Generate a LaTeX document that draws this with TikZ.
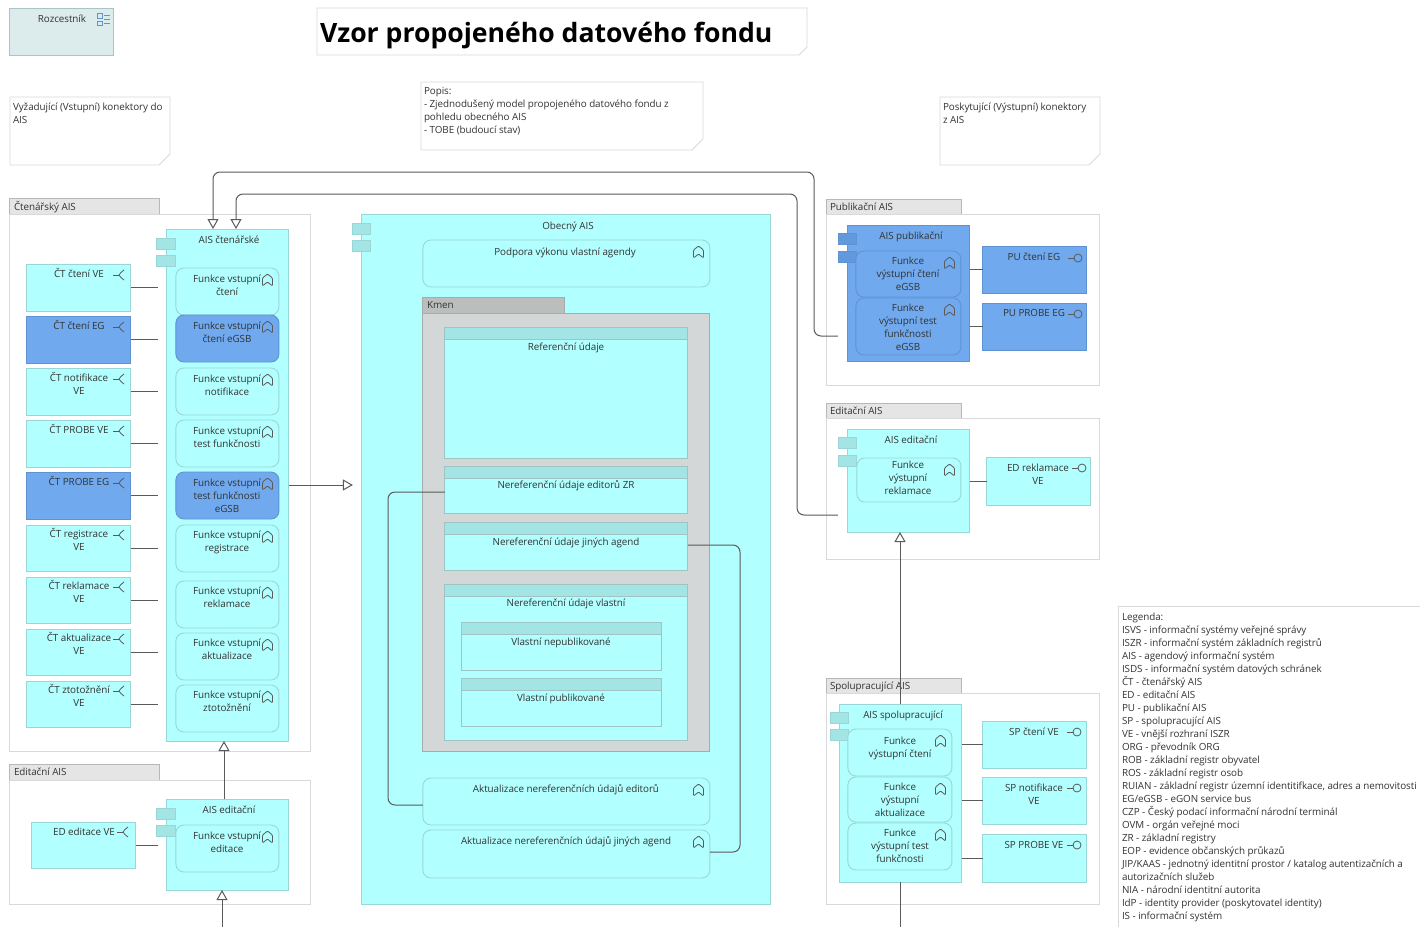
\documentclass[tikz,border=0pt]{standalone}
\usepackage{fontspec}
\setmainfont{Open Sans}
\usetikzlibrary{arrows.meta,calc}
\definecolor{cy}{HTML}{B2FFFF}
\definecolor{cyb}{HTML}{9AD6D6}
\definecolor{cyt}{HTML}{A3E4E4}
\definecolor{bl}{HTML}{70A9EE}
\definecolor{blb}{HTML}{5F93D2}
\definecolor{blt}{HTML}{6199DC}
\definecolor{grp}{HTML}{D9D9D9}
\definecolor{ink}{HTML}{333333}
\definecolor{wire}{HTML}{5A5A5A}
\definecolor{kmf}{HTML}{D3D7D7}
\definecolor{kml}{HTML}{BCBEBE}
\definecolor{kmb}{HTML}{A8ABAB}
\definecolor{dirb}{HTML}{A0C4C4}
\definecolor{rzf}{HTML}{DCEBEB}
\definecolor{rzb}{HTML}{A8C4C4}
\newcommand\fs{\fontsize{9.85}{13}\selectfont\addfontfeature{LetterSpace=-0.6}}
\tikzset{
  x=1pt,y=-1pt,
  bxbase/.style={rectangle,inner sep=0pt,outer sep=0pt,line width=.9pt},
  cyanbox/.style={bxbase,draw=cyb,fill=cy},
  bluebox/.style={bxbase,draw=blb,fill=bl},
  cyantab/.style={bxbase,draw=cyb,fill=cyt},
  bluetab/.style={bxbase,draw=blb,fill=blt},
  cyanfn/.style={bxbase,draw=cyb,fill=cy,rounded corners=8pt},
  bluefn/.style={bxbase,draw=blb,fill=bl,rounded corners=8pt},
  grpbox/.style={bxbase,draw=grp,fill=white},
  grplab/.style={bxbase,draw=grp!85!black,fill=black!10},
  kmenbox/.style={bxbase,draw=kmb,fill=kmf},
  kmenlab/.style={bxbase,draw=kmb,fill=kml},
  dirbox/.style={bxbase,draw=dirb,fill=cy},
  hdr/.style={bxbase,draw=dirb,fill=cyt},
  rozc/.style={bxbase,draw=rzb,fill=rzf},
  hidden/.style={bxbase},
  txt/.style={inner sep=0pt,outer sep=0pt,text=ink,font=\fs,align=center,anchor=north},
  ltxt/.style={inner sep=0pt,outer sep=0pt,text=ink,font=\fs,align=left,anchor=north west},
  wireline/.style={draw=wire,line width=1pt},
  conn/.style={draw=wire,line width=1pt,rounded corners=7pt},
  opent/.style={-{Triangle[open,fill=white,length=10pt,width=11pt]}},
  sym/.style={draw=wire,line width=.8pt,line join=round},
  notel/.style={draw=grp,line width=.9pt,fill=white},
}
% style name x1 y1 x2 y2
\newcommand\bx[6]{\node[#1,minimum width={(#5-#3)*1pt},minimum height={(#6-#4)*1pt}] (#2) at ({(#3+#5)/2-0.1},{(#4+#6)/2}) {};}
% name x yc text
\newcommand\tx[4]{\node[txt] (#1) at (#2,{#3-5.2}) {\strut #4};}
\newcommand\lt[4]{\node[ltxt] (#1) at (#2,{#3-5.2}) {\strut #4};}
\newcommand\fnicon[2]{\draw[sym,rounded corners=1pt] ({#1-5},{#2-2}) -- (#1,{#2-6}) -- ({#1+5},{#2-2}) -- ({#1+5},{#2+6}) -- (#1,{#2+2}) -- ({#1-5},{#2+6}) -- cycle;}
% function: style name x1 y1 x2 y2
\newcommand\fn[6]{\bx{#1}{#2}{#3}{#4}{#5}{#6}\fnicon{#5-11.5}{#4+12}}
\newcommand\req[2]{\draw[sym] (#1,#2) -- ({#1+6},#2); \draw[sym] ({#1+11},{#2-5}) .. controls ({#1+8},{#2-4}) and ({#1+7.5},{#2-1}) .. ({#1+6},#2) .. controls ({#1+7.5},{#2+1}) and ({#1+8},{#2+4}) .. ({#1+11},{#2+5});}
\newcommand\prov[2]{\draw[sym] ({#1-10},#2) -- ({#1-4},#2); \draw[sym] (#1,#2) circle[radius=4];}
% note: name x1 y1 x2 y2 chamfer
\newcommand\note[6]{\draw[notel] (#2,#3) -- (#4,#3) -- (#4,{#5-#6}) -- ({#4-#6},#5) -- (#2,#5) -- cycle; \bx{hidden}{#1}{#2}{#3}{#4}{#5}}
\begin{document}
\begin{tikzpicture}
\useasboundingbox (0,0) rectangle (1420,927);
\fill[white] (0,0) rectangle (1420,927);

% top row
\bx{rozc}{rozcestnik}{10}{8}{114}{55}
\tx{rozcestnikt}{62}{19}{Rozcestník}
\draw[blb,line width=.8pt] (97.5,13.5) rectangle (102.5,18) (97.5,21) rectangle (102.5,25.5);
\draw[blb,line width=.8pt] (104,15) -- (110,15) (104,19) -- (110,19) (104,23) -- (110,23);
\note{title}{317}{8}{807}{55}{8}
\node[inner sep=0pt,outer sep=0pt,anchor=west,text=black,font=\fontsize{26.6}{30}\selectfont\bfseries] (titlet) at (320,35.5) {Vzor propojeného datového fondu};
\note{nvyz}{10}{97}{170}{165}{11}
\lt{nvyzt}{13}{107}{Vyžadující (Vstupní) konektory do\\AIS}
\note{npopis}{421}{82}{703}{150}{11}
\lt{npopist}{424}{91}{Popis:\\- Zjednodušený model propojeného datového fondu z\\pohledu obecného AIS\\- TOBE (budoucí stav)}
\note{npos}{940}{97}{1100}{165}{11}
\lt{npost}{943}{107}{Poskytující (Výstupní) konektory\\z AIS}

% Ctenarsky group
\bx{grplab}{gctl}{10}{198}{160}{214}
\bx{grpbox}{gct}{10}{214}{311}{751}
\lt{gctt}{14}{207}{Čtenářský AIS}
\bx{cyanbox}{aisct}{167}{229}{289}{741}
\bx{cyantab}{aisct1}{157}{238}{176}{249}
\bx{cyantab}{aisct2}{157}{255}{176}{266}
\tx{aisctt}{229}{240}{AIS čtenářské}

\bx{cyanbox}{ct1}{27}{264}{131}{311}
\bx{bluebox}{ct2}{27}{316}{131}{363}
\bx{cyanbox}{ct3}{27}{368}{131}{415}
\bx{cyanbox}{ct4}{27}{420}{131}{467}
\bx{bluebox}{ct5}{27}{472}{131}{519}
\bx{cyanbox}{ct6}{27}{525}{131}{571}
\bx{cyanbox}{ct7}{27}{577}{131}{623}
\bx{cyanbox}{ct8}{27}{629}{131}{675}
\bx{cyanbox}{ct9}{27}{681}{131}{727}
\tx{ct1t}{79}{274}{ČT čtení VE}\req{113}{275}
\tx{ct2t}{79}{326}{ČT čtení EG}\req{113}{327}
\tx{ct3t}{79}{378}{ČT notifikace\\VE}\req{113}{379}
\tx{ct4t}{79}{430}{ČT PROBE VE}\req{113}{431}
\tx{ct5t}{79}{482}{ČT PROBE EG}\req{113}{483}
\tx{ct6t}{79}{534}{ČT registrace\\VE}\req{113}{535}
\tx{ct7t}{79}{586}{ČT reklamace\\VE}\req{113}{587}
\tx{ct8t}{79}{638}{ČT aktualizace\\VE}\req{113}{639}
\tx{ct9t}{79}{690}{ČT ztotožnění\\VE}\req{113}{691}

\fn{cyanfn}{f1}{176}{268}{279}{315}
\fn{bluefn}{f2}{176}{315}{279}{362}
\fn{cyanfn}{f3}{176}{368}{279}{415}
\fn{cyanfn}{f4}{176}{420}{279}{467}
\fn{bluefn}{f5}{176}{472}{279}{519}
\fn{cyanfn}{f6}{176}{525}{279}{572}
\fn{cyanfn}{f7}{176}{581}{279}{628}
\fn{cyanfn}{f8}{176}{633}{279}{680}
\fn{cyanfn}{f9}{176}{685}{279}{732}
\tx{f1t}{227}{279}{Funkce vstupní\\čtení}
\tx{f2t}{227}{326}{Funkce vstupní\\čtení eGSB}
\tx{f3t}{227}{379}{Funkce vstupní\\notifikace}
\tx{f4t}{227}{431}{Funkce vstupní\\test funkčnosti}
\tx{f5t}{227}{483}{Funkce vstupní\\test funkčnosti\\eGSB}
\tx{f6t}{227}{535}{Funkce vstupní\\registrace}
\tx{f7t}{227}{591}{Funkce vstupní\\reklamace}
\tx{f8t}{227}{643}{Funkce vstupní\\aktualizace}
\tx{f9t}{227}{695}{Funkce vstupní\\ztotožnění}

% Editacni lower-left
\bx{grplab}{gedl}{10}{764}{160}{780}
\bx{grpbox}{ged}{10}{780}{311}{904}
\lt{gedt}{14}{772}{Editační AIS}
\bx{cyanbox}{aised}{167}{799}{289}{890}
\bx{cyantab}{aised1}{157}{808}{176}{819}
\bx{cyantab}{aised2}{157}{825}{176}{836}
\tx{aisedt}{229}{810}{AIS editační}
\bx{cyanbox}{ed1}{32}{822}{136}{868}
\tx{ed1t}{84}{832}{ED editace VE}\req{117}{832}
\fn{cyanfn}{fed}{176}{825}{279}{872}
\tx{fedt}{227}{836}{Funkce vstupní\\editace}

% Obecny AIS
\bx{cyanbox}{obec}{362}{214}{771}{904}
\bx{cyantab}{obec1}{353}{223}{371}{234}
\bx{cyantab}{obec2}{353}{240}{371}{251}
\tx{obect}{568}{226}{Obecný AIS}
\fn{cyanfn}{pod}{423}{240}{710}{287}
\tx{podt}{565}{252}{Podpora výkonu vlastní agendy}
\bx{kmenlab}{kml}{423}{297}{565}{313}
\bx{kmenbox}{km}{423}{313}{710}{751}
\lt{kmt}{427}{305}{Kmen}
\bx{dirbox}{d1}{445}{327}{688}{458}
\bx{hdr}{d1h}{445}{327}{688}{339}
\tx{d1t}{566}{347}{Referenční údaje}
\bx{dirbox}{d2}{445}{466}{688}{513}
\bx{hdr}{d2h}{445}{466}{688}{478}
\tx{d2t}{566}{485}{Nereferenční údaje editorů ZR}
\bx{dirbox}{d3}{445}{522}{688}{570}
\bx{hdr}{d3h}{445}{522}{688}{534}
\tx{d3t}{566}{542}{Nereferenční údaje jiných agend}
\bx{dirbox}{d4}{445}{584}{688}{740}
\bx{hdr}{d4h}{445}{584}{688}{596}
\tx{d4t}{566}{603}{Nereferenční údaje vlastní}
\bx{dirbox}{d5}{462}{622}{662}{670}
\bx{hdr}{d5h}{462}{622}{662}{634}
\tx{d5t}{561}{642}{Vlastní nepublikované}
\bx{dirbox}{d6}{462}{678}{662}{726}
\bx{hdr}{d6h}{462}{678}{662}{690}
\tx{d6t}{561}{698}{Vlastní publikované}
\fn{cyanfn}{ak1}{423}{778}{710}{825}
\tx{ak1t}{566}{789}{Aktualizace nereferenčních údajů editorů}
\fn{cyanfn}{ak2}{423}{830}{710}{878}
\tx{ak2t}{566}{841}{Aktualizace nereferenčních údajů jiných agend}

% Publikacni
\bx{grplab}{gpul}{827}{199}{962}{214}
\bx{grpbox}{gpu}{827}{214}{1100}{385}
\lt{gput}{830}{207}{Publikační AIS}
\bx{bluebox}{aispu}{848}{225}{970}{361}
\bx{bluetab}{aispu1}{839}{233}{857}{244}
\bx{bluetab}{aispu2}{839}{251}{857}{262}
\tx{aisput}{911}{236}{AIS publikační}
\fn{bluefn}{fp1}{856}{251}{961}{297}
\fn{bluefn}{fp2}{856}{298}{961}{355}
\tx{fp1t}{908}{261}{Funkce\\výstupní čtení\\eGSB}
\tx{fp2t}{908}{308}{Funkce\\výstupní test\\funkčnosti\\eGSB}
\bx{bluebox}{pu1}{983}{246}{1087}{293}
\bx{bluebox}{pu2}{983}{303}{1087}{350}
\tx{pu1t}{1034}{257}{PU čtení EG}\prov{1078}{258}
\tx{pu2t}{1034}{313}{PU PROBE EG}\prov{1078}{314}

% Editacni right
\bx{grplab}{ge2l}{827}{403}{962}{418}
\bx{grpbox}{ge2}{827}{418}{1100}{559}
\lt{ge2t}{830}{411}{Editační AIS}
\bx{cyanbox}{aise2}{848}{429}{970}{532}
\bx{cyantab}{aise21}{839}{437}{857}{448}
\bx{cyantab}{aise22}{839}{455}{857}{466}
\tx{aise2t}{911}{440}{AIS editační}
\fn{cyanfn}{fe2}{857}{458}{961}{502}
\tx{fe2t}{908}{465}{Funkce\\výstupní\\reklamace}
\bx{cyanbox}{e2a}{987}{457}{1091}{505}
\tx{e2at}{1038}{468}{ED reklamace\\VE}\prov{1082}{468}

% Spolupracujici
\bx{grplab}{gspl}{827}{678}{962}{693}
\bx{grpbox}{gsp}{827}{693}{1100}{904}
\lt{gspt}{830}{686}{Spolupracující AIS}
\bx{cyanbox}{aissp}{840}{704}{962}{882}
\bx{cyantab}{aissp1}{831}{712}{849}{723}
\bx{cyantab}{aissp2}{831}{729}{849}{740}
\tx{aisspt}{903}{715}{AIS spolupracující}
\fn{cyanfn}{fs1}{848}{729}{952}{776}
\fn{cyanfn}{fs2}{848}{777}{952}{822}
\fn{cyanfn}{fs3}{848}{823}{952}{870}
\tx{fs1t}{900}{741}{Funkce\\výstupní čtení}
\tx{fs2t}{900}{787}{Funkce\\výstupní\\aktualizace}
\tx{fs3t}{900}{833}{Funkce\\výstupní test\\funkčnosti}
\bx{cyanbox}{sp1}{983}{721}{1087}{768}
\bx{cyanbox}{sp2}{983}{777}{1087}{824}
\bx{cyanbox}{sp3}{983}{834}{1087}{882}
\tx{sp1t}{1034}{732}{SP čtení VE}\prov{1077}{732}
\tx{sp2t}{1034}{788}{SP notifikace\\VE}\prov{1077}{788}
\tx{sp3t}{1034}{845}{SP PROBE VE}\prov{1077}{845}

% legend
\node[bxbase,minimum width=302pt,minimum height=321pt] (legbox) at (1269,766.5) {};
\draw[grp,line width=.9pt] (legbox.south west) -- (legbox.north west) -- (legbox.north east);
\lt{leg}{1122}{617}{Legenda:\\ISVS - informační systémy veřejné správy\\ISZR - informační systém základních registrů\\AIS - agendový informační systém\\ISDS - informační systém datových schránek\\ČT - čtenářský AIS\\ED - editační AIS\\PU - publikační AIS\\SP - spolupracující AIS\\VE - vnější rozhraní ISZR\\ORG - převodník ORG\\ROB - základní registr obyvatel\\ROS - základní registr osob\\RUIAN - základní registr územní identitifkace, adres a nemovitosti\\EG/eGSB - eGON service bus\\CZP - Český podací informační národní terminál\\OVM - orgán veřejné moci\\ZR - základní registry\\EOP - evidence občanských průkazů\\JIP/KAAS - jednotný identitní prostor / katalog autentizačních a\\autorizačních služeb\\NIA - národní identitní autorita\\IdP - identity provider (poskytovatel identity)\\IS - informační systém}

% free ends
\coordinate (bottomleft) at (222,927);
\coordinate (bottomright) at (900,927);

% connectors
\foreach \n/\f in {ct1/f1,ct2/f2,ct3/f3,ct4/f4,ct5/f5,ct6/f6,ct7/f7,ct8/f8,ct9/f9}
  \draw[wireline,shorten >=9pt] (\n.east) -- (aisct.west |- \n.east);
\draw[wireline,shorten >=9pt] (ed1.east) -- (aised.west |- ed1.east);
\draw[wireline] (aispu.east |- pu1.west) -- (pu1.west);
\draw[wireline] (aispu.east |- pu2.west) -- (pu2.west);
\draw[wireline] (aise2.east |- e2a.west) -- (e2a.west);
\draw[wireline] (aissp.east |- sp1.west) -- (sp1.west);
\draw[wireline] (aissp.east |- sp2.west) -- (sp2.west);
\draw[wireline] (aissp.east |- sp3.west) -- (sp3.west);
\draw[conn,opent,shorten <=10pt] (aispu.west |- 0,336) -- (814,336) -- (814,172) -- (213,172) -- (aisct.north -| 213,0);
\draw[conn,opent,shorten <=10pt] (aise2.west |- 0,515) -- (797,515) -- (797,194) -- (236,194) -- (aisct.north -| 236,0);
\draw[conn,opent] (aised.north -| 224,0) -- (aisct.south -| 224,0);
\draw[conn,opent] (bottomleft) -- (aised.south -| 222,0);
\draw[conn,opent,shorten >=9pt] (aisct.east |- 0,485) -- (obec.west |- 0,485);
\draw[conn] (d2.west |- 0,492) -- (388,492) -- (388,805) -- (ak1.west |- 0,805);
\draw[conn] (d3.east |- 0,545) -- (740,545) -- (740,852) -- (ak2.east |- 0,852);
\draw[conn,opent] (aissp.north -| 900,0) -- (aise2.south -| 900,0);
\draw[conn] (aissp.south -| 900,0) -- (bottomright);
\end{tikzpicture}
\end{document}
